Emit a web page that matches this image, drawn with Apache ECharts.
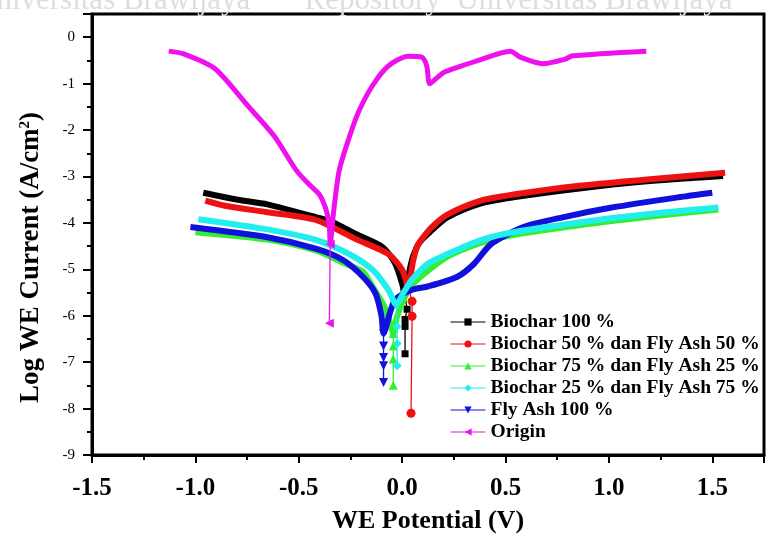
<!DOCTYPE html>
<html>
<head>
<meta charset="utf-8">
<script src="https://cdn.jsdelivr.net/npm/echarts@6/dist/echarts.min.js"></script>
<style>
	html, body { margin: 0; padding: 0; background: #fff; }
	#chart { width: 767px; height: 539px; }
</style>
</head>
<body>
<div id="chart"></div>
<script>
// series names, in legend order
var seriesNames = ['Biochar 100 %', 'Biochar 50 % dan Fly Ash 50 %', 'Biochar 75 % dan Fly Ash 25 %', 'Biochar 25 % dan Fly Ash 75 %', 'Fly Ash 100 %', 'Origin'];
var xTicks = [-1.5, -1.0, -0.5, 0.0, 0.5, 1.0, 1.5];
var yTicks = [-9, -8, -7, -6, -5, -4, -3, -2, -1, 0];

// [potential V, log current]  main curve (left branch -> cusp -> right branch)
var biochar100 = [[-0.962,-3.35],[-0.795,-3.50],[-0.652,-3.60],[-0.414,-3.88],[-0.333,-3.99],[-0.224,-4.24],[-0.095,-4.52],[-0.033,-4.88],[0.0,-5.31],[0.01,-5.48],[0.029,-5.16],[0.052,-4.73],[0.086,-4.41],[0.143,-4.16],[0.219,-3.88],[0.381,-3.58],[0.538,-3.45],[0.857,-3.26],[1.171,-3.11],[1.552,-2.99]];
var biochar100Tail = [[0.01,-5.48],[0.024,-5.86],[0.014,-6.08],[0.014,-6.23],[0.014,-6.82]];

var bio50fa50 = [[-0.952,-3.52],[-0.857,-3.63],[-0.652,-3.77],[-0.414,-3.94],[-0.224,-4.35],[-0.067,-4.67],[0.0,-5.01],[0.029,-5.37],[0.052,-4.84],[0.071,-4.52],[0.095,-4.35],[0.143,-4.09],[0.219,-3.82],[0.381,-3.52],[0.538,-3.39],[0.857,-3.20],[1.171,-3.07],[1.562,-2.92]];
var bio50fa50Tail = [[0.029,-5.37],[0.048,-5.69],[0.048,-6.01],[0.043,-8.10]];

var bio75fa25 = [[-1.0,-4.20],[-0.652,-4.36],[-0.414,-4.60],[-0.286,-4.86],[-0.19,-5.05],[-0.143,-5.37],[-0.086,-5.80],[-0.055,-6.20],[-0.043,-6.38],[-0.024,-6.01],[0.014,-5.59],[0.062,-5.27],[0.219,-4.73],[0.381,-4.43],[0.538,-4.26],[0.857,-4.05],[1.171,-3.88],[1.529,-3.71]];
var bio75fa25Tail = [[-0.043,-6.38],[-0.043,-6.65],[-0.043,-6.93],[-0.043,-7.50]];

var bio25fa75 = [[-0.986,-3.92],[-0.652,-4.14],[-0.414,-4.37],[-0.257,-4.67],[-0.143,-5.01],[-0.067,-5.44],[-0.029,-5.75],[0.014,-5.45],[0.048,-5.22],[0.124,-4.88],[0.219,-4.67],[0.381,-4.37],[0.538,-4.20],[0.857,-3.99],[1.171,-3.82],[1.529,-3.67]];
var bio25fa75Tail = [[-0.029,-5.75],[-0.024,-6.23],[-0.024,-6.60],[-0.024,-7.08]];

var flyAsh100 = [[-1.024,-4.09],[-0.652,-4.31],[-0.414,-4.56],[-0.286,-4.80],[-0.19,-5.16],[-0.129,-5.52],[-0.10,-6.00],[-0.09,-6.38],[-0.057,-5.91],[-0.033,-5.65],[0.048,-5.44],[0.124,-5.37],[0.267,-5.16],[0.348,-4.88],[0.429,-4.46],[0.586,-4.09],[0.776,-3.88],[1.014,-3.67],[1.333,-3.45],[1.5,-3.35]];
var flyAsh100Tail = [[-0.09,-6.38],[-0.09,-6.65],[-0.09,-6.90],[-0.09,-7.08],[-0.09,-7.44]];

var origin = [[-1.129,-0.30],[-1.057,-0.36],[-0.905,-0.68],[-0.748,-1.47],[-0.619,-2.13],[-0.51,-2.88],[-0.448,-3.18],[-0.40,-3.39],[-0.367,-3.73],[-0.352,-4.09],[-0.348,-4.46],[-0.333,-3.82],[-0.305,-2.88],[-0.257,-2.17],[-0.21,-1.60],[-0.143,-1.04],[-0.067,-0.62],[0.029,-0.41],[0.095,-0.43],[0.119,-0.62],[0.133,-1.0],[0.167,-0.88],[0.205,-0.75],[0.362,-0.51],[0.524,-0.30],[0.571,-0.43],[0.681,-0.57],[0.79,-0.47],[0.824,-0.40],[1.181,-0.30]];
var originTail = [[-0.348,-4.46],[-0.352,-6.16]];

var colorArr = ['#000000', '#ee1111', '#33ee33', '#22eeee', '#1111dd', '#ee11ee'];
var symbolArr = ['rect', 'circle', 'triangle', 'diamond', 'triangle', 'triangle'];
var rotateArr = [0, 0, 0, 0, 180, 90];
var fontName = '"Liberation Serif", "Times New Roman", serif';

var curves = [biochar100, bio50fa50, bio75fa25, bio25fa75, flyAsh100, origin];
var tails = [biochar100Tail, bio50fa50Tail, bio75fa25Tail, bio25fa75Tail, flyAsh100Tail, originTail];
// drawing order (cyan over blue, origin on top)
var drawOrder = [0, 1, 2, 4, 3, 5];

function makeSeries() {
	var _series = [];
	for (var k = 0; k < drawOrder.length; k++) {
		var i = drawOrder[k];
		_series.push({
			name: seriesNames[i],
			type: 'line',
			data: curves[i],
			smooth: 0.25,
			symbol: symbolArr[i],
			symbolRotate: rotateArr[i],
			symbolSize: 0,
			lineStyle: { width: i == 5 ? 5 : 6, color: colorArr[i] },
			itemStyle: { color: colorArr[i] },
			z: 2 + k
		});
		_series.push({
			name: seriesNames[i],
			type: 'line',
			data: tails[i],
			symbol: symbolArr[i],
			symbolRotate: rotateArr[i],
			symbolSize: i == 0 ? 7 : 9,
			lineStyle: { width: 1.3, color: colorArr[i] },
			itemStyle: { color: colorArr[i] },
			z: 2 + k
		});
	}
	return _series;
}

var chart = echarts.init(document.getElementById('chart'));
var option = {
	animation: false,
	backgroundColor: '#ffffff',
	graphic: [{
		type: 'text',
		left: -26,
		top: -15,
		silent: true,
		style: {
			text: 'Universitas Brawijaya       Repository  Universitas Brawijaya',
			fill: '#dedede',
			font: '31px ' + fontName
		}
	}],
	grid: {
		left: 92,
		top: 14,
		right: -8,
		bottom: 79,
		show: true,
		borderColor: '#000',
		borderWidth: 3,
		backgroundColor: 'transparent'
	},
	legend: {
		orient: 'vertical',
		left: 445,
		top: 307,
		itemWidth: 35,
		itemHeight: 9,
		itemGap: 2,
		data: seriesNames,
		lineStyle: { width: 1 },
		textStyle: {
			fontFamily: fontName,
			fontWeight: 'bold',
			fontSize: 19.5,
			lineHeight: 20,
			color: '#000'
		}
	},
	xAxis: {
		type: 'value',
		min: -1.5,
		max: 1.75,
		interval: 0.5,
		splitLine: { show: false },
		axisLine: { show: true, onZero: false, lineStyle: { color: '#000', width: 3 } },
		axisTick: { show: true, length: 8, lineStyle: { width: 2, color: '#000' } },
		minorTick: { show: true, splitNumber: 2, length: 5, lineStyle: { width: 2, color: '#000' } },
		axisLabel: {
			margin: 21,
			fontFamily: fontName,
			fontWeight: 'bold',
			fontSize: 25,
			color: '#000',
			formatter: function (v) { return xTicks.indexOf(v) >= 0 ? v.toFixed(1) : ''; }
		},
		name: 'WE Potential (V)',
		nameLocation: 'middle',
		nameGap: 53,
		nameTextStyle: { fontFamily: fontName, fontWeight: 'bold', fontSize: 26, color: '#000' }
	},
	yAxis: {
		type: 'value',
		min: -9,
		max: 0.5,
		interval: 1,
		splitLine: { show: false },
		axisLine: { show: true, onZero: false, lineStyle: { color: '#000', width: 3 } },
		axisTick: { show: true, length: 9, lineStyle: { width: 2, color: '#000' } },
		minorTick: { show: true, splitNumber: 2, length: 5, lineStyle: { width: 2, color: '#000' } },
		axisLabel: {
			margin: 17,
			fontFamily: fontName,
			fontSize: 15,
			color: '#000',
			formatter: function (v) { return yTicks.indexOf(v) >= 0 ? String(v) : ''; }
		},
		name: 'Log WE Current (A/cm{sup|2})',
		nameLocation: 'middle',
		nameGap: 47,
		nameTextStyle: {
			fontFamily: fontName,
			fontWeight: 'bold',
			fontSize: 27,
			color: '#000',
			padding: [0, 46, 0, 0],
			rich: {
				sup: { fontFamily: fontName, fontWeight: 'bold', fontSize: 15, verticalAlign: 'top', padding: [0, 0, 12, 0] }
			}
		}
	},
	series: makeSeries()
};
chart.setOption(option);
</script>
</body>
</html>
